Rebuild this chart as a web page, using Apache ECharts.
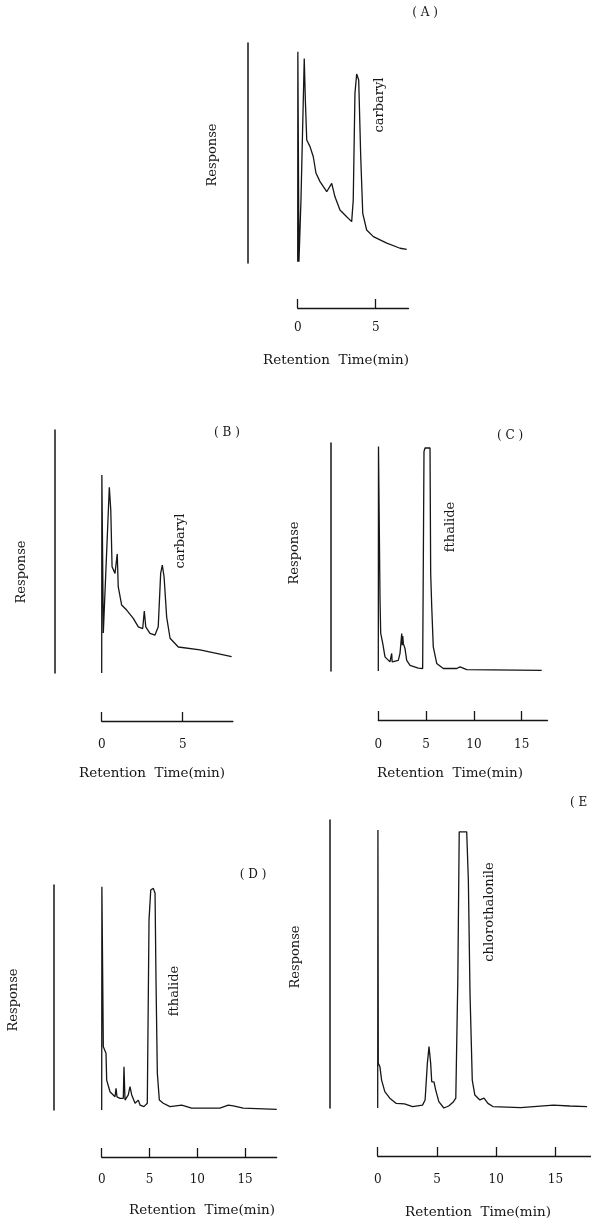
<!DOCTYPE html>
<html>
<head>
<meta charset="utf-8">
<script src="https://cdn.jsdelivr.net/npm/echarts@6/dist/echarts.min.js"></script>
<style>
html,body{margin:0;padding:0;background:#fff;}
#chart{width:591px;height:1225px;}
</style>
</head>
<body>
<div id="chart"></div>
<script>
// ---- data (retention time in min, response in arbitrary units 0-100) ----
const panelLabels = ['( A )', '( B )', '( C )', '( D )', '( E )'];
const compounds = ['carbaryl', 'carbaryl', 'fthalide', 'fthalide', 'chlorothalonile'];
const xTicks = [0, 5, 10, 15];
const xAxisTitle = 'Retention  Time(min)';
const yAxisTitle = 'Response';

const timeA = [0, 0.01, 0.08, 0.15, 0.21, 0.42, 0.49, 0.58, 0.79, 1.00, 1.06, 1.17, 1.43, 1.86, 2.18, 2.39, 2.71, 3.14, 3.46, 3.56, 3.67, 3.78, 3.91, 4.04, 4.17, 4.42, 4.85, 5.71, 6.56, 6.99];
const respA = [0.6, 96.0, 0.6, 0.6, 28.6, 93.0, 74.1, 55.9, 52.9, 48.3, 49.1, 40.9, 37.0, 32.4, 36.2, 30.1, 24.1, 21.0, 18.8, 28.6, 77.1, 85.9, 83.2, 48.3, 22.6, 15.0, 12.0, 9.0, 6.7, 6.2];

const timeB = [0, 0.01, 0.10, 0.47, 0.56, 0.64, 0.82, 0.96, 1.02, 1.23, 1.54, 1.95, 2.26, 2.53, 2.63, 2.72, 2.98, 3.29, 3.49, 3.64, 3.74, 3.85, 4.01, 4.22, 4.73, 6.07, 8.02];
const respB = [0, 81.5, 16.5, 76.4, 67.1, 43.7, 41.0, 49.0, 35.5, 28.0, 25.9, 22.5, 19.0, 18.3, 25.5, 19.0, 16.3, 15.6, 19.0, 41.0, 44.4, 39.6, 23.0, 14.3, 10.7, 9.5, 6.7];

const timeC = [0, 0.02, 0.18, 0.25, 0.46, 0.70, 1.22, 1.35, 1.40, 1.45, 2.09, 2.27, 2.45, 2.51, 2.56, 2.62, 2.79, 2.97, 3.32, 4.18, 4.64, 4.78, 4.89, 5.41, 5.48, 5.59, 5.75, 6.11, 6.80, 8.20, 8.55, 9.25, 17.09];
const respC = [0, 98.5, 31.1, 16.6, 12.2, 6.2, 4.0, 4.0, 7.7, 4.0, 4.7, 7.7, 16.4, 11.3, 15.3, 12.0, 9.9, 4.7, 2.5, 1.3, 1.1, 96.3, 97.8, 97.8, 42.8, 28.1, 10.6, 3.3, 1.1, 1.1, 1.8, 0.6, 0.3];

const timeD = [0, 0.02, 0.17, 0.45, 0.52, 0.87, 1.39, 1.50, 1.60, 1.91, 2.26, 2.33, 2.44, 2.78, 2.96, 3.14, 3.49, 3.83, 4.01, 4.42, 4.77, 4.95, 5.13, 5.40, 5.58, 5.68, 5.82, 6.03, 6.44, 7.14, 8.37, 8.54, 9.41, 12.37, 13.24, 13.77, 14.81, 18.31];
const respD = [0, 99.2, 28.1, 25.2, 13.3, 8.1, 5.9, 9.6, 5.8, 5.2, 5.2, 19.2, 4.4, 6.7, 10.4, 6.7, 3.0, 4.4, 2.2, 1.5, 3.0, 84.4, 97.8, 98.5, 96.3, 57.8, 16.3, 4.4, 3.0, 1.5, 2.2, 2.7, 0.8, 0.8, 2.2, 1.8, 0.8, 0.3];

const timeE = [0, 0.02, 0.05, 0.19, 0.33, 0.60, 1.02, 1.57, 2.26, 2.95, 3.78, 4.00, 4.19, 4.33, 4.47, 4.56, 4.75, 4.89, 5.16, 5.58, 5.99, 6.40, 6.59, 6.76, 6.88, 7.51, 7.65, 7.79, 7.98, 8.20, 8.62, 8.97, 9.30, 9.72, 12.06, 14.83, 16.21, 17.67];
const respE = [0, 96.5, 15.5, 14.3, 9.7, 5.7, 3.4, 1.6, 1.4, 0.5, 1.0, 2.8, 15.5, 21.3, 15.5, 9.1, 9.1, 6.3, 2.2, 0, 0.7, 2.2, 3.4, 44.4, 95.9, 95.9, 79.2, 39.8, 9.7, 4.5, 2.8, 3.4, 1.6, 0.5, 0.1, 1.0, 0.7, 0.5];

const times = [timeA, timeB, timeC, timeD, timeE];
const resps = [respA, respB, respC, respD, respE];

// ---- layout (pixels) ----
const layout = [
  {x0: 297.7, ppm: 15.6, tmax: 7.1, top: 43, bottom: 263, axisY: 308, respX: 248, rtX: 213, rtY: 155, nX: 336, nY: 360, lX: 425, lY: 13, cX: 380, cY: 105, lm: 14},
  {x0: 101.7, ppm: 16.2, tmax: 8.1, top: 430, bottom: 673, axisY: 721, respX: 55, rtX: 22, rtY: 572, nX: 152, nY: 773, lX: 227, lY: 433, cX: 181, cY: 541, lm: 18},
  {x0: 378.3, ppm: 9.56, tmax: 17.7, top: 443, bottom: 671, axisY: 720, respX: 330.5, rtX: 295, rtY: 553, nX: 450, nY: 773, lX: 510, lY: 436, cX: 451, cY: 527, lm: 19},
  {x0: 101.7, ppm: 9.56, tmax: 18.3, top: 885, bottom: 1110, axisY: 1157, respX: 53.3, rtX: 14, rtY: 1000, nX: 202, nY: 1210, lX: 253, lY: 875, cX: 175, cY: 991, lm: 17},
  {x0: 377.7, ppm: 12.07, tmax: 18.0, top: 820, bottom: 1108, axisY: 1156, respX: 330, rtX: 296, rtY: 957, nX: 478, nY: 1212, lX: 583, lY: 803, cX: 490, cY: 912, lm: 18}
];

const ink = '#161616';
const serif = '"DejaVu Serif", "Liberation Serif", serif';

const grids = [], xAxes = [], yAxes = [], series = [], graphics = [];
layout.forEach((L, i) => {
  grids.push({left: L.x0, top: L.top, width: L.tmax * L.ppm, height: L.bottom - L.top, containLabel: false});
  const ticks = xTicks.filter(v => v <= L.tmax);
  xAxes.push({
    type: 'value', gridIndex: i, min: 0, max: L.tmax, interval: 5,
    offset: L.axisY - L.bottom,
    axisLine: {show: true, onZero: false, lineStyle: {color: ink, width: 1.3}},
    axisTick: {show: true, inside: true, length: 9, customValues: ticks, lineStyle: {color: ink, width: 1.3}},
    axisLabel: {show: true, customValues: ticks, margin: L.lm, color: ink, fontFamily: serif, fontSize: 12},
    splitLine: {show: false}
  });
  yAxes.push({
    type: 'value', gridIndex: i, min: 0, max: 100,
    offset: L.x0 - L.respX,
    axisLine: {show: true, onZero: false, lineStyle: {color: ink, width: 1.5}},
    axisTick: {show: false}, axisLabel: {show: false}, splitLine: {show: false}
  });
  series.push({
    type: 'line', xAxisIndex: i, yAxisIndex: i, showSymbol: false, symbol: 'none',
    data: times[i].map((t, k) => [t, resps[i][k]]),
    lineStyle: {color: ink, width: 1.3}, clip: false, animation: false
  });
  const txt = (x, y, s, rot, size) => ({
    type: 'text', x: x, y: y, rotation: rot,
    style: {text: s, fill: ink, font: size + 'px ' + serif, align: 'center', verticalAlign: 'middle'}
  });
  graphics.push(txt(L.rtX, L.rtY, yAxisTitle, Math.PI / 2, 13));
  graphics.push(txt(L.nX, L.nY, xAxisTitle, 0, 13.5));
  graphics.push(txt(L.lX, L.lY, panelLabels[i], 0, 12));
  graphics.push(txt(L.cX, L.cY, compounds[i], Math.PI / 2, 13));
});

const chart = echarts.init(document.getElementById('chart'), null, {renderer: 'canvas'});
chart.setOption({
  backgroundColor: '#ffffff',
  animation: false,
  grid: grids, xAxis: xAxes, yAxis: yAxes, series: series,
  graphic: graphics
});
</script>
</body>
</html>
